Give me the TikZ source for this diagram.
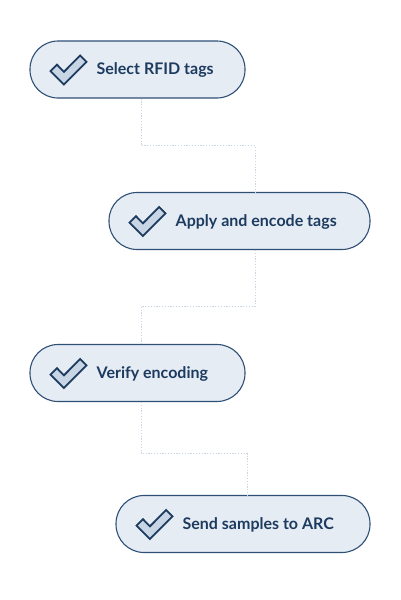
\documentclass[tikz,border=0pt]{standalone}
\usepackage{fontspec}
\setmainfont{Lato}
\usetikzlibrary{calc}
\definecolor{navy}{HTML}{1C3B5F}
\definecolor{pillfill}{HTML}{E6ECF4}
\definecolor{pilledge}{HTML}{2E4F76}
\definecolor{tickfill}{HTML}{C8D5E4}
\definecolor{linkgray}{HTML}{C6D4E4}
\begin{document}
\begin{tikzpicture}[x=1pt,y=-1pt,
  pill/.style={draw=pilledge,fill=pillfill,line width=1.1pt,rounded corners=28pt,minimum height=57pt,inner sep=0pt},
  steptext/.style={anchor=base west,text=navy,font=\bfseries\fontsize{16}{18}\selectfont,inner sep=0pt},
  link/.style={draw=linkgray,line width=0.9pt,dash pattern=on 1.2pt off 1.6pt},
  checkmark/.pic={\draw[navy,fill=tickfill,line width=1.8pt,line join=miter] (0,0) -- (22.6,-22.6) -- (16.2,-29) -- (0,-12.7) -- (-7,-19.8) -- (-13.4,-13.4) -- cycle;}]
\useasboundingbox (0,0) rectangle (400,600);

\node[pill,minimum width=215pt] (s1) at (137.5,69.5) {};
\node[pill,minimum width=261pt] (s2) at (239.5,221) {};
\node[pill,minimum width=215pt] (s3) at (137.5,373) {};
\node[pill,minimum width=254pt] (s4) at (243,524) {};

\draw[link] ($(s1.south)+(3.5,0)$) -- ++(0,47) -| ($(s2.north)+(15.5,0)$);
\draw[link] ($(s2.south)+(15.5,0)$) -- ++(0,56.5) -| ($(s3.north)+(3.5,0)$);
\draw[link] ($(s3.south)+(3.5,0)$) -- ++(0,51.5) -| ($(s4.north)+(4,0)$);

\pic at ($(s1.west)+(34.5,15)$) {checkmark};
\pic at ($(s2.west)+(34.5,15)$) {checkmark};
\pic at ($(s3.west)+(34.5,15)$) {checkmark};
\pic at ($(s4.west)+(34.5,15)$) {checkmark};

\node[steptext] (t1) at ($(s1.west)+(67,5)$) {Select RFID tags};
\node[steptext] (t2) at ($(s2.west)+(67,5)$) {Apply and encode tags};
\node[steptext] (t3) at ($(s3.west)+(67,5)$) {Verify encoding};
\node[steptext] (t4) at ($(s4.west)+(67,5)$) {Send samples to ARC};
\end{tikzpicture}
\end{document}
